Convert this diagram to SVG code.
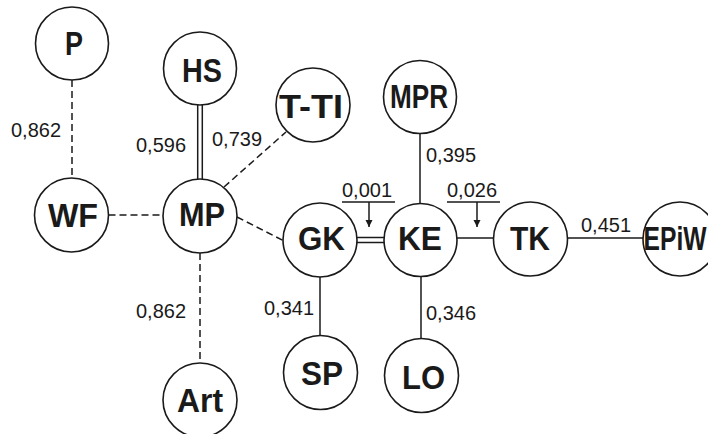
<svg xmlns="http://www.w3.org/2000/svg" width="708" height="434" viewBox="0 0 708 434">
  <style>
    .node circle { fill: #fff; stroke: #1a1a1a; stroke-width: 1.6; }
    .node text { font-family: "Liberation Sans", Arial, sans-serif; font-weight: bold; font-size: 33px; fill: #1a1a1a; text-anchor: middle; }
    .edge { stroke: #1a1a1a; stroke-width: 1.5; fill: none; }
    .dash { stroke-dasharray: 7 4; }
    .val { font-family: "Liberation Sans", Arial, sans-serif; font-size: 20px; fill: #1a1a1a; }
  </style>
  <defs>
    <marker id="tip" viewBox="0 0 10 10" refX="10" refY="5" markerWidth="7" markerHeight="10" markerUnits="userSpaceOnUse" orient="auto">
      <path d="M0,0 L10,5 L0,10 Z" fill="#1a1a1a"/>
    </marker>
  </defs>
  <rect width="708" height="434" fill="#fff"/>

  <g id="connectors">
    <!-- dashed links -->
    <line class="edge dash" x1="72" y1="80" x2="72" y2="178"/>
    <line class="edge dash" x1="108.5" y1="215" x2="163" y2="215"/>
    <line class="edge dash" x1="224" y1="187" x2="286" y2="132"/>
    <line class="edge dash" x1="237" y1="217" x2="284" y2="241"/>
    <line class="edge dash" x1="200" y1="253" x2="200" y2="363"/>
    <!-- double links -->
    <line class="edge" x1="197.7" y1="105" x2="197.7" y2="179"/>
    <line class="edge" x1="202.3" y1="105" x2="202.3" y2="179"/>
    <line class="edge" x1="356" y1="237.5" x2="384" y2="237.5"/>
    <line class="edge" x1="356" y1="242.5" x2="384" y2="242.5"/>
    <!-- solid links -->
    <line class="edge" x1="420" y1="133" x2="420" y2="203"/>
    <line class="edge" x1="457" y1="238" x2="493" y2="238"/>
    <line class="edge" x1="567" y1="238" x2="643" y2="238"/>
    <line class="edge" x1="320" y1="277" x2="320" y2="335"/>
    <line class="edge" x1="421" y1="277" x2="421" y2="338"/>
    <!-- pointer arrows -->
    <line class="edge" x1="342" y1="202" x2="395" y2="202"/>
    <line class="edge" x1="369" y1="202" x2="369" y2="227" marker-end="url(#tip)"/>
    <line class="edge" x1="447" y1="202" x2="500" y2="202"/>
    <line class="edge" x1="477" y1="202" x2="477" y2="227" marker-end="url(#tip)"/>
  </g>

  <g id="values">
    <text class="val" x="11" y="137">0,862</text>
    <text class="val" x="136" y="152">0,596</text>
    <text class="val" x="212" y="146">0,739</text>
    <text class="val" x="426" y="162">0,395</text>
    <text class="val" x="342" y="197">0,001</text>
    <text class="val" x="447" y="197">0,026</text>
    <text class="val" x="581" y="232">0,451</text>
    <text class="val" x="136" y="318">0,862</text>
    <text class="val" x="264" y="315">0,341</text>
    <text class="val" x="426" y="320">0,346</text>
  </g>

  <g id="P" class="node"><circle cx="72" cy="43.5" r="36.5"/><text x="74" y="55" textLength="18" lengthAdjust="spacingAndGlyphs">P</text></g>
  <g id="HS" class="node"><circle cx="200" cy="68.5" r="36.5"/><text x="202" y="82" textLength="40" lengthAdjust="spacingAndGlyphs">HS</text></g>
  <g id="T-TI" class="node"><circle cx="313" cy="105" r="37"/><text x="311" y="118" textLength="64" lengthAdjust="spacingAndGlyphs">T-TI</text></g>
  <g id="MPR" class="node"><circle cx="420" cy="97" r="36.5"/><text x="419" y="108" textLength="58" lengthAdjust="spacingAndGlyphs">MPR</text></g>
  <g id="WF" class="node"><circle cx="71.5" cy="215" r="37"/><text x="73" y="227" textLength="50" lengthAdjust="spacingAndGlyphs">WF</text></g>
  <g id="MP" class="node"><circle cx="200" cy="216" r="37"/><text x="202" y="226" textLength="46" lengthAdjust="spacingAndGlyphs">MP</text></g>
  <g id="GK" class="node"><circle cx="320" cy="240" r="37"/><text x="321.5" y="250" textLength="47" lengthAdjust="spacingAndGlyphs">GK</text></g>
  <g id="KE" class="node"><circle cx="420.5" cy="240" r="36.5"/><text x="420" y="250" textLength="44" lengthAdjust="spacingAndGlyphs">KE</text></g>
  <g id="TK" class="node"><circle cx="530.5" cy="239" r="37"/><text x="530" y="250" textLength="40" lengthAdjust="spacingAndGlyphs">TK</text></g>
  <g id="EPiW" class="node"><circle cx="680" cy="239" r="37"/><text x="675" y="250" textLength="63" lengthAdjust="spacingAndGlyphs">EPiW</text></g>
  <g id="SP" class="node"><circle cx="320.5" cy="372.5" r="37"/><text x="322" y="385" textLength="42" lengthAdjust="spacingAndGlyphs">SP</text></g>
  <g id="LO" class="node"><circle cx="421.5" cy="375.5" r="37"/><text x="423.5" y="389" textLength="43" lengthAdjust="spacingAndGlyphs">LO</text></g>
  <g id="Art" class="node"><circle cx="200" cy="400" r="37"/><text x="200" y="412" textLength="46" lengthAdjust="spacingAndGlyphs">Art</text></g>
</svg>
